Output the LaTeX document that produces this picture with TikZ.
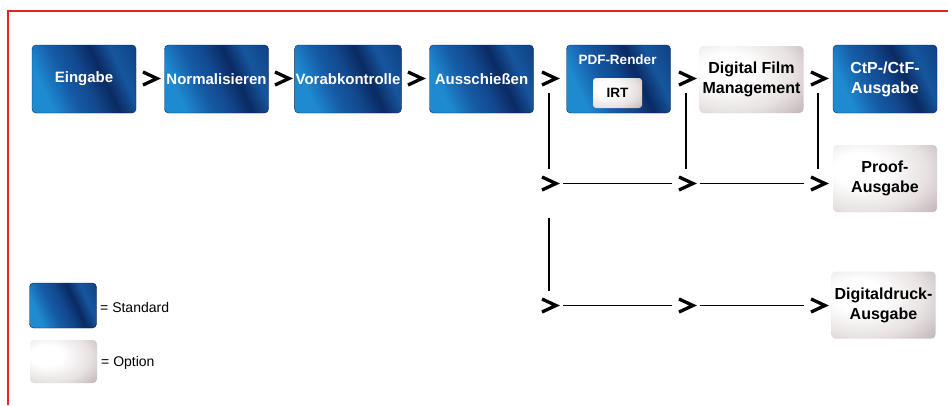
\documentclass[tikz,border=0pt]{standalone}
\usepackage{fontspec}
\setmainfont{Liberation Sans}
\definecolor{redframe}{RGB}{226,36,36}
\definecolor{bA}{RGB}{30,138,208}
\definecolor{bB}{RGB}{22,92,166}
\definecolor{bC}{RGB}{18,72,142}
\definecolor{bD}{RGB}{10,42,98}
\definecolor{bE}{RGB}{22,86,158}
\definecolor{bF}{RGB}{14,62,128}
\definecolor{oA}{RGB}{255,255,255}
\definecolor{oB}{RGB}{232,225,225}
\definecolor{oC}{RGB}{188,175,177}
\definecolor{oD}{RGB}{155,140,142}
\pgfdeclarehorizontalshading{bluebox}{100bp}{color(0bp)=(bA); color(28bp)=(bA); color(40bp)=(bB); color(50bp)=(bC); color(60bp)=(bD); color(70bp)=(bE); color(85bp)=(bF); color(100bp)=(bF)}
\pgfdeclareradialshading{optbox}{\pgfpoint{-14bp}{8bp}}{color(0bp)=(oA); color(12bp)=(oA); color(30bp)=(oB); color(46bp)=(oC); color(60bp)=(oD); color(100bp)=(oD)}
\begin{document}
\begin{tikzpicture}[x=1pt,y=-1pt,
  std/.style={rounded corners=4pt, shade, shading=bluebox, shading angle=25,
    draw=bD!85!black, line width=0.4pt,
    minimum width=104pt, minimum height=68pt, inner sep=1pt, align=center,
    text=white, font=\fontsize{15}{18}\selectfont\bfseries},
  opt/.style={rounded corners=4pt, shade, shading=optbox,
    minimum width=104pt, minimum height=67pt, inner sep=1pt, align=center,
    text=black, font=\fontsize{16}{20}\selectfont\bfseries},
  chevpt/.style={circle, minimum size=28pt, inner sep=0pt},
  chev/.style={line width=3.3pt, line join=miter, miter limit=10},
  conn/.style={line width=1.3pt, black},
  legtext/.style={anchor=west, inner sep=0pt, font=\fontsize{14}{16}\selectfont}
]
\useasboundingbox (0,0) rectangle (948,405);
\fill[white] (0,0) rectangle (948,405);
\draw[redframe, line width=2.2pt] (948,11) -- (8,11) -- (8,405);

% main row
\node[std] (eing) at (84,79) {Eingabe};
\node[std] (norm) at (216.5,79) {Normalisieren};
\node[std] (vorab) at (348,79) {Vorabkontrolle};
\node[std] (aus) at (481.5,79) {Ausschießen};
\node[std] (pdf) at (618.5,79) {};
\node[font=\fontsize{13.5}{16}\selectfont\bfseries, text=white, inner sep=0pt] (pdft) at (617.5,60) {PDF-Render};
\node[opt, minimum width=49pt, minimum height=30pt, rounded corners=3pt,
  font=\fontsize{13.5}{16}\selectfont\bfseries] (irt) at (617.5,93) {IRT};
\node[opt] (dfm) at (751.5,79.5) {Digital Film\\Management};
\node[std, font=\fontsize{16}{20}\selectfont\bfseries] (ctp) at (885,79) {CtP-/CtF-\\Ausgabe};
\node[opt] (proof) at (885,178.5) {Proof-\\Ausgabe};
\node[opt] (ddr) at (883.5,305) {Digitaldruck-\\Ausgabe};

% chevron points
\node[chevpt] (k1) at (150,78.5) {};
\node[chevpt] (k2) at (282,78.5) {};
\node[chevpt] (k3) at (415,78.5) {};
\node[chevpt] (k4) at (549,78.5) {};
\node[chevpt] (k5) at (686,78.5) {};
\node[chevpt] (k6) at (818,78.5) {};
\node[chevpt] (m1) at (549,183.5) {};
\node[chevpt] (m2) at (686,183.5) {};
\node[chevpt] (m3) at (818,183.5) {};
\node[chevpt] (b1) at (549,305.5) {};
\node[chevpt] (b2) at (686,305.5) {};
\node[chevpt] (b3) at (818,305.5) {};

\foreach \n in {k1,k2,k3,k4,k5,k6,m1,m2,m3,b1,b2,b3}
  \draw[chev] ([shift={(-7,-6.5)}]\n.center) -- ++(14,6.5) -- ++(-14,6.5);

% connectors
\draw[conn] (k4) -- (m1);
\draw[conn, shorten <=20pt] (m1) -- (b1);
\draw[conn] (k5) -- (m2);
\draw[conn] (k6) -- (m3);
\draw[conn] (m1) -- (m2);
\draw[conn] (m2) -- (m3);
\draw[conn] (b1) -- (b2);
\draw[conn] (b2) -- (b3);

% legend
\node[std, minimum width=67pt, minimum height=45pt] (lstd) at (63,305.5) {};
\node[opt, minimum width=67pt, minimum height=43pt] (lopt) at (63.5,361.5) {};
\node[legtext] (lstdt) at (100,307) {= Standard};
\node[legtext] (loptt) at (101,363) {= Option};
\end{tikzpicture}
\end{document}
